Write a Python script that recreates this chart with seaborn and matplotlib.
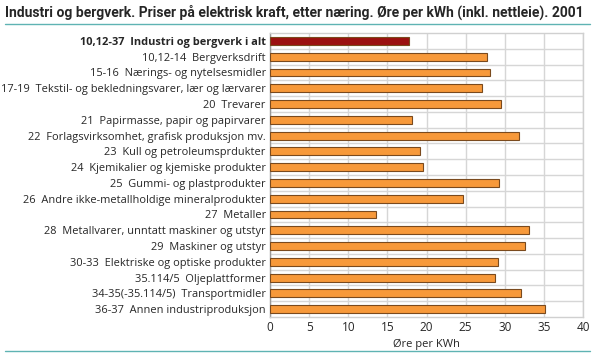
import matplotlib
matplotlib.use("Agg")
import matplotlib.pyplot as plt
import seaborn as sns
import pandas as pd
from matplotlib.lines import Line2D

# data
categories = [
    "10,12-37  Industri og bergverk i alt",
    "10,12-14  Bergverksdrift",
    "15-16  Nærings- og nytelsesmidler",
    "17-19  Tekstil- og bekledningsvarer, lær og lærvarer",
    "20  Trevarer",
    "21  Papirmasse, papir og papirvarer",
    "22  Forlagsvirksomhet, grafisk produksjon mv.",
    "23  Kull og petroleumsprdukter",
    "24  Kjemikalier og kjemiske produkter",
    "25  Gummi- og plastprodukter",
    "26  Andre ikke-metallholdige mineralprodukter",
    "27  Metaller",
    "28  Metallvarer, unntatt maskiner og utstyr",
    "29  Maskiner og utstyr",
    "30-33  Elektriske og optiske produkter",
    "35.114/5  Oljeplattformer",
    "34-35(-35.114/5)  Transportmidler",
    "36-37  Annen industriproduksjon",
]
values = [17.7, 27.7, 28.1, 27.1, 29.5, 18.1, 31.8, 19.2, 19.6, 29.3,
          24.7, 13.5, 33.1, 32.6, 29.2, 28.8, 32.1, 35.2]

title = "Industri og bergverk. Priser på elektrisk kraft, etter næring. Øre per kWh (inkl. nettleie). 2001"
xlabel = "Øre per KWh"

df = pd.DataFrame({"Kategori": categories, "Verdi": values})
palette = ["#9b1010"] + ["#f7993a"] * (len(categories) - 1)

sns.set_style("white")
plt.rcParams["font.family"] = ["Open Sans", "DejaVu Sans"]

fig = plt.figure(figsize=(5.95, 3.53), dpi=100)
ax = fig.add_axes([270 / 595, 1 - 317 / 353, 313 / 595, 284 / 353])

sns.barplot(data=df, x="Verdi", y="Kategori", hue="Kategori", palette=palette,
            legend=False, width=0.5, saturation=1, edgecolor="#7a4a1e",
            linewidth=0.8, ax=ax, zorder=3)

ax.set_xlim(0, 40)
ax.set_xticks(range(0, 41, 5))
ax.set_ylim(len(categories) - 0.5, -0.5)
ax.set_yticks(range(len(categories)))
ax.set_yticklabels(categories, fontsize=7.9)
ax.get_yticklabels()[0].set_fontweight("bold")
ax.tick_params(axis="x", labelsize=8.5, length=0, pad=3)
ax.tick_params(axis="y", length=0, pad=3)
ax.set_xlabel(xlabel, fontsize=8, labelpad=3)
ax.set_ylabel("")

# grid: vertical at ticks, horizontal between rows
ax.grid(axis="x", color="#d6d6d6", linewidth=1, zorder=0)
for y in [i + 0.5 for i in range(len(categories) - 1)]:
    ax.axhline(y, color="#d6d6d6", linewidth=1, zorder=0)
for s in ax.spines.values():
    s.set_color("#d0d0d0")
    s.set_linewidth(1)
ax.spines["left"].set_color("#999999")

fig.text(5 / 595, 1 - 12 / 353, title, fontsize=10, fontweight="bold",
         va="center", ha="left", family=["Roboto", "DejaVu Sans"])
fig.add_artist(Line2D([5 / 595, 590 / 595], [1 - 24 / 353] * 2, color="#5fb3b3", linewidth=1))
fig.add_artist(Line2D([5 / 595, 590 / 595], [1 - 351 / 353] * 2, color="#5fb3b3", linewidth=1))

fig.savefig("out.png", dpi=100)
